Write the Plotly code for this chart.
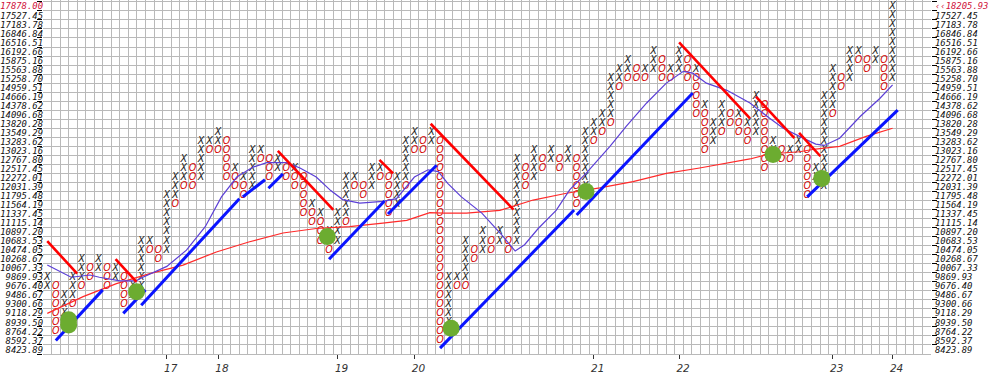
import plotly.graph_objects as go

# ---- price boxes (2% box size) ----
box_labels = ["8423.89", "8592.37", "8764.22", "8939.50", "9118.29", "9300.66", "9486.67",
              "9676.40", "9869.93", "10067.33", "10268.67", "10474.05", "10683.53", "10897.20",
              "11115.14", "11337.45", "11564.19", "11795.48", "12031.39", "12272.01", "12517.45",
              "12767.80", "13023.16", "13283.62", "13549.29", "13820.28", "14096.68", "14378.62",
              "14666.19", "14959.51", "15258.70", "15563.88", "15875.16", "16192.66", "16516.51",
              "16846.84", "17183.78", "17527.45", "17878.00"]
top_hidden_label = "18235.56"
last_price_label = "‹‹18205.93"

# ---- columns: X range and O range (box index), None = absent ----
N = None
x_lo = [7, N, 3, 6, 8, N, 9, N, 8, N, 6, 7, 12, N, 11, 17, 19, N, 19, 23,
        23, N, 20, 19, 18, 22, N, 20, N, 20, N, 16, 15, 13, 12, 15, 19, N, 18, 20,
        N, 16, 19, 23, N, 23, N, 2, 8, 8, N, 11, N, 12, N, 12, N, 19, N, 21,
        N, 21, N, 17, 24, 25, 26, 30, 31, N, 31, 31, N, 31, 31, N, 31, 27, 23, 25,
        N, 26, 25, 24, N, 21, N, 22, 22, N, 19, 18, 27, N, 30, 33, N, 32, N, 30]
x_hi = [8, N, 6, 8, 10, N, 10, N, 9, N, 7, 12, 12, N, 17, 19, 21, N, 23, 23,
        24, N, 20, 19, 22, 22, N, 21, N, 20, N, 16, 15, 13, 15, 19, 19, N, 20, 20,
        N, 19, 23, 24, N, 24, N, 8, 8, 12, N, 13, N, 13, N, 21, N, 22, N, 22,
        N, 22, N, 24, 25, 26, 30, 31, 32, N, 31, 33, N, 31, 33, N, 31, 27, 25, 27,
        N, 26, 25, 28, N, 23, N, 22, 23, N, 20, 28, 31, N, 33, 33, N, 33, N, 38]
o_lo = [N, 2, N, 5, 7, 8, N, 7, N, 5, N, N, 11, 10, N, 16, 18, 18, N, 22,
        22, 19, 18, 17, N, 21, 19, N, 19, 18, 15, 14, 12, 11, N, 14, 18, 17, N, 19,
        15, N, 18, 22, 22, N, 1, N, 7, 7, 10, N, 11, N, 11, N, 18, N, 20, N,
        20, N, 16, N, 23, 24, 25, 29, 30, 30, 30, N, 30, 30, N, 30, 26, 22, N, 24,
        25, 24, 23, N, 20, N, 21, 21, N, 17, N, N, 26, 29, N, 32, 31, N, 29, N]
o_hi = [N, 7, N, 5, 7, 9, N, 9, N, 8, N, N, 11, 11, N, 16, 18, 20, N, 22,
        22, 23, 19, 18, N, 21, 21, N, 20, 19, 19, 15, 14, 12, N, 14, 18, 18, N, 19,
        19, N, 18, 22, 23, N, 23, N, 7, 7, 11, N, 12, N, 12, N, 20, N, 21, N,
        21, N, 21, N, 23, 24, 25, 29, 30, 31, 30, N, 32, 30, N, 32, 30, 26, N, 24,
        26, 25, 24, N, 27, N, 22, 21, N, 22, N, N, 26, 30, N, 32, 32, N, 32, N]

# ---- year ticks ----
year_cols = [14, 20, 34, 43, 64, 74, 92, 99]
year_labels = ["17", "18", "19", "20", "21", "22", "23", "24"]

# ---- moving averages (column, box) ----
ma_fast_c = [0, 2.8, 5, 6.1, 8.5, 10.4, 11.2, 14, 16.3, 18.5, 20.4, 22.2, 24.1, 25.7, 28, 29.6,
             31.5, 33.2, 34.6, 36.6, 39.3, 40.9, 43, 44.6, 45.8, 46.9, 48.5, 50.9, 53.3, 54.8,
             55.9, 57.5, 59.6, 61.2, 63.1, 65.9, 67.8, 70.2, 72.5, 74.5, 75.6, 77.2, 79.6, 82.3,
             84.6, 86.2, 88.1, 90, 91, 92.8, 95.2, 97.5, 99]
ma_fast_r = [9.35, 8.0, 8.25, 8.0, 7.6, 7.6, 8.0, 9.2, 11, 13.6, 16.9, 19.1, 20.2, 20.7, 20.7, 20.1,
             19.1, 17.6, 16.6, 16.2, 16.4, 16.7, 19.1, 19.9, 19.7, 18.4, 16.9, 15.1, 12.6, 10.9,
             11.6, 13.4, 15.4, 17.7, 19.5, 22.5, 24.7, 27.3, 29.5, 30.8, 30.6, 29.5, 28.7, 27.3,
             25.6, 24.5, 23.6, 22.75, 22.6, 23.4, 25.8, 27.8, 29.3]
ma_slow_c = [0, 4.2, 8.1, 12, 15.9, 19.8, 23.6, 27.6, 31.5, 35.4, 39.3, 42.1, 44.8, 46.4, 49.1,
             53, 56.9, 60.8, 64.7, 68.6, 72.5, 76.4, 82.3, 84.6, 88.1, 90, 92.8, 95.9, 99]
ma_slow_r = [4, 5.85, 7.3, 8.4, 9.35, 10.8, 11.9, 12.9, 13.4, 13.6, 14, 14.3, 15.15, 15.1, 15.1,
             15.4, 16.55, 17.3, 17.9, 18.6, 19.5, 20.1, 21.1, 21.65, 21.9, 22.2, 22.5, 23.6, 24.5]

# ---- trend lines: (c0, r0, c1, r1) ----
down_lines = [(0, 12, 3.5, 8.4), (8, 10, 10.45, 7.5), (27, 22, 33.5, 15.45), (38.9, 21, 40.5, 19.5),
              (44.9, 25, 54.6, 15.5), (74, 34, 82.3, 25.6), (83, 28, 87.5, 23.4), (88.05, 24, 90.55, 21.4)]
up_lines = [(1, 1, 6.5, 6.6), (8.9, 4.0, 11.5, 6.6), (11, 4.9, 22.5, 16.7), (22.9, 16.9, 25.5, 18.8),
            (25.9, 17.85, 27.6, 19.45), (33, 10, 39.5, 16.45), (39.9, 15, 45.6, 20.4),
            (46, 0.15, 61.7, 15.45), (62, 14.9, 75.6, 28.4), (89, 16.9, 99.6, 26.5)]

# ---- signal dots ----
dot_c = [2.5, 2.5, 10.45, 32.8, 47.3, 63.1, 85.0, 90.7]
dot_r = [3.3, 2.7, 6.4, 12.5, 2.35, 17.5, 21.6, 18.95]

# ================= build =================
xs_c, xs_r, os_c, os_r = [], [], [], []
for c in range(len(x_lo)):
    if x_lo[c] is not None:
        for r in range(x_lo[c], x_hi[c] + 1):
            xs_c.append(c); xs_r.append(r)
    if o_lo[c] is not None:
        for r in range(o_lo[c], o_hi[c] + 1):
            os_c.append(c); os_r.append(r)

nrows = len(box_labels)
ncols_grid = 104
glyph_font = dict(family="DejaVu Sans", size=9.6, style="italic")

fig = go.Figure()
fig.add_trace(go.Scatter(x=xs_c, y=xs_r, mode="text", text=["X"] * len(xs_c),
                         textfont=dict(color="#222222", **glyph_font), hoverinfo="skip"))
fig.add_trace(go.Scatter(x=os_c, y=os_r, mode="text", text=["O"] * len(os_c),
                         textfont=dict(color="#d40000", **glyph_font), hoverinfo="skip"))
fig.add_trace(go.Scatter(x=ma_slow_c, y=ma_slow_r, mode="lines", line=dict(color="#ff2a2a", width=1.2),
                         hoverinfo="skip"))
fig.add_trace(go.Scatter(x=ma_fast_c, y=ma_fast_r, mode="lines", line=dict(color="#5b3fd6", width=1.2),
                         hoverinfo="skip"))
for (c0, r0, c1, r1) in down_lines:
    fig.add_trace(go.Scatter(x=[c0, c1], y=[r0, r1], mode="lines", line=dict(color="#ff0000", width=2.6),
                             hoverinfo="skip"))
for (c0, r0, c1, r1) in up_lines:
    fig.add_trace(go.Scatter(x=[c0, c1], y=[r0, r1], mode="lines", line=dict(color="#0a14ff", width=3),
                             hoverinfo="skip"))
fig.add_trace(go.Scatter(x=dot_c, y=dot_r, mode="markers",
                         marker=dict(color="#6cac30", size=17, line=dict(width=0)), hoverinfo="skip"))
# invisible trace for right axis
fig.add_trace(go.Scatter(x=[0], y=[0], yaxis="y2", mode="markers", marker=dict(opacity=0),
                         hoverinfo="skip"))

left_text = list(box_labels)
left_text[-1] = '<span style="color:#d0103a">' + box_labels[-1] + '</span>'
right_text = list(box_labels)
right_text[-1] = '<span style="color:#d0103a">' + last_price_label + '</span>'

yr = [-0.5, 38.705]
label_font = dict(family="DejaVu Sans Mono", size=8.9, color="#111111", style="italic")
grid_col = "#b9b9b9"

fig.update_layout(
    width=1000, height=380,
    margin=dict(l=43, r=69, t=0, b=26, autoexpand=False),
    paper_bgcolor="white", plot_bgcolor="white",
    showlegend=False,
    xaxis=dict(range=[-0.5, ncols_grid - 0.5], tickmode="array", tickvals=year_cols, ticktext=year_labels,
               ticks="outside", ticklen=4, tickcolor="#333", showgrid=False, zeroline=False,
               showline=True, linecolor=grid_col, ticklabelshift=4, automargin=False,
               tickfont=dict(family="DejaVu Sans", size=10.5, color="#333", style="italic"),
               minor=dict(tickvals=[i - 0.5 for i in range(ncols_grid + 1)], showgrid=True,
                          gridcolor=grid_col, gridwidth=1, ticks="")),
    yaxis=dict(range=yr, tickmode="array", tickvals=list(range(nrows)), ticktext=left_text,
               ticks="", showgrid=False, zeroline=False, showline=False, tickfont=label_font,
               automargin=False, ticklabelstandoff=-1,
               minor=dict(tickvals=[r + 0.5 for r in range(-1, nrows)], showgrid=True, gridcolor=grid_col,
                          gridwidth=1, ticks="outside", ticklen=5, tickcolor="#000")),
    yaxis2=dict(range=yr, overlaying="y", side="right", tickmode="array", tickvals=list(range(nrows)),
                ticktext=right_text, ticks="", showgrid=False, zeroline=False, showline=False,
                tickfont=label_font, automargin=False, ticklabelstandoff=3,
                minor=dict(tickvals=[r + 0.5 for r in range(0, nrows)], showgrid=False,
                           ticks="outside", ticklen=5, tickcolor="#000")),
    annotations=[
        dict(text=top_hidden_label, xref="paper", x=0, xanchor="right", yref="y", y=nrows,
             showarrow=False, font=label_font, xshift=0),
        dict(text=top_hidden_label, xref="paper", x=1, xanchor="left", yref="y", y=nrows,
             showarrow=False, font=label_font, xshift=4),
    ],
)

fig.write_html("out.html", config={"displayModeBar": False},
               post_script="document.body.style.margin='0px';")
